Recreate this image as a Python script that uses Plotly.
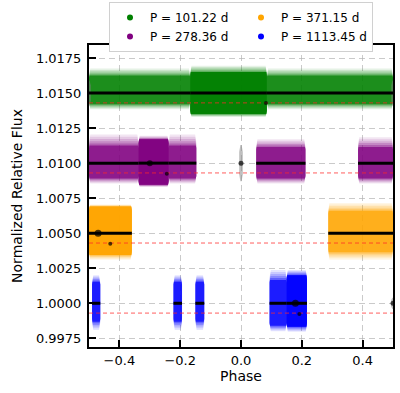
import plotly.graph_objects as go

# ---------------- data ----------------
series_names = ["P = 101.22 d", "P = 278.36 d", "P = 371.15 d", "P = 1113.45 d"]
series_colors = ["green", "purple", "orange", "blue"]
series_offsets = [1.015, 1.010, 1.005, 1.000]
model_levels = [1.0143, 1.0093, 1.0043, 0.9993]

# segments of phase coverage: start, end, core low/high, faint low/high, dense flag
green_start = [-0.5, -0.167, 0.085]
green_end = [-0.167, 0.085, 0.5]
green_core_lo = [1.01420, 1.01350, 1.01420]
green_core_hi = [1.01625, 1.01650, 1.01625]
green_faint_lo = [1.01385, 1.01330, 1.01385]
green_faint_hi = [1.01675, 1.01695, 1.01675]
green_dense = [False, True, False]

purple_start = [-0.5, -0.337, -0.238, 0.050, 0.385]
purple_end = [-0.337, -0.238, -0.147, 0.212, 0.5]
purple_core_lo = [1.00890, 1.00845, 1.00890, 1.00890, 1.00890]
purple_core_hi = [1.01125, 1.01170, 1.01125, 1.01115, 1.01115]
purple_faint_lo = [1.00855, 1.00830, 1.00855, 1.00855, 1.00855]
purple_faint_hi = [1.01205, 1.01195, 1.01205, 1.01170, 1.01185]
purple_dense = [False, True, False, False, False]

orange_start = [-0.5, 0.287]
orange_end = [-0.359, 0.5]
orange_core_lo = [1.00345, 1.00365]
orange_core_hi = [1.00690, 1.00660]
orange_faint_lo = [1.00310, 1.00310]
orange_faint_hi = [1.00705, 1.00716]
orange_dense = [True, False]

blue_start = [-0.490, -0.222, -0.150, 0.094, 0.150]
blue_end = [-0.463, -0.194, -0.121, 0.150, 0.217]
blue_core_lo = [0.99869, 0.99869, 0.99869, 0.99840, 0.99833]
blue_core_hi = [1.00154, 1.00154, 1.00154, 1.00166, 1.00200]
blue_faint_lo = [0.99810, 0.99810, 0.99810, 0.99800, 0.99797]
blue_faint_hi = [1.00200, 1.00200, 1.00200, 1.00238, 1.00238]
blue_dense = [False, False, False, False, True]

# grey out-of-set points (phase, flux, half-height)
grey_phase = [0.0, -0.5, 0.5, 0.5]
grey_flux = [1.0100, 1.0150, 1.0150, 1.0000]
grey_half = [0.0013, 0.0009, 0.0009, 0.0004]

# isolated black binned points (phase, flux)
black_phase = [0.082, -0.244, -0.430, 0.192, -0.470, 0.179, -0.300, 0.0, 0.5]
black_flux = [1.01429, 1.00924, 1.00424, 0.99924, 1.0050, 1.0000, 1.0100, 1.0100, 1.0000]
black_size = [4, 4, 4, 4, 7, 7, 6, 5, 5]

segments = [
    (green_start, green_end, green_core_lo, green_core_hi, green_faint_lo, green_faint_hi, green_dense),
    (purple_start, purple_end, purple_core_lo, purple_core_hi, purple_faint_lo, purple_faint_hi, purple_dense),
    (orange_start, orange_end, orange_core_lo, orange_core_hi, orange_faint_lo, orange_faint_hi, orange_dense),
    (blue_start, blue_end, blue_core_lo, blue_core_hi, blue_faint_lo, blue_faint_hi, blue_dense),
]

rgb = {"green": (0, 128, 0), "purple": (128, 0, 128), "orange": (255, 165, 0), "blue": (0, 0, 255)}


def rgba(c, a):
    r, g, b = rgb[c]
    return f"rgba({r},{g},{b},{a})"


def blob(x0, x1, lo, hi, cut):
    # rounded-ish outline; narrow segments become oval
    w = x1 - x0
    rx = min(0.35 * w, 0.004) * cut
    ry = min(0.2 * (hi - lo), 0.0005) * cut
    xs = [x0, x0 + rx, x1 - rx, x1, x1, x1 - rx, x0 + rx, x0, x0]
    ys = [lo + ry, lo, lo, lo + ry, hi - ry, hi, hi, hi - ry, lo + ry]
    return xs, ys


fig = go.Figure()

# (fraction from faint edge to core edge, alpha, corner cut)
layers = [(0.0, 0.10, 1.0), (0.2, 0.12, 0.9), (0.4, 0.15, 0.8), (0.6, 0.2, 0.7),
          (0.8, 0.3, 0.55), (1.0, 0.7, 0.4)]

for (s, e, clo, chi, flo, fhi, dense), col in zip(segments, series_colors):
    for frac, alpha, cut in layers:
        px, py = [], []
        for i in range(len(s)):
            lo = flo[i] + (clo[i] - flo[i]) * frac
            hi = fhi[i] + (chi[i] - fhi[i]) * frac
            xs, ys = blob(s[i], e[i], lo, hi, cut)
            px += xs + [None]
            py += ys + [None]
        fig.add_trace(go.Scatter(x=px, y=py, mode="lines", fill="toself", line=dict(width=0),
                                 fillcolor=rgba(col, alpha), showlegend=False, hoverinfo="skip"))
    dx, dy = [], []
    for i in range(len(s)):
        if dense[i]:
            xs, ys = blob(s[i], e[i], clo[i], chi[i], 0.6)
            dx += xs + [None]
            dy += ys + [None]
    if dx:
        fig.add_trace(go.Scatter(x=dx, y=dy, mode="lines", fill="toself", line=dict(width=0),
                                 fillcolor=rgba(col, 0.85), showlegend=False, hoverinfo="skip"))

# grey blobs
for gp, gf, gh in zip(grey_phase, grey_flux, grey_half):
    xs, ys = blob(gp - 0.006, gp + 0.006, gf - gh, gf + gh, 1.0)
    fig.add_trace(go.Scatter(x=xs, y=ys, mode="lines", fill="toself", line=dict(width=0),
                             fillcolor="rgba(128,128,128,0.5)", showlegend=False, hoverinfo="skip"))

# red dashed model levels
for lvl in model_levels:
    fig.add_trace(go.Scatter(x=[-0.5, 0.5], y=[lvl, lvl], mode="lines",
                             line=dict(color="rgba(255,40,40,0.75)", width=1, dash="4px,3px"),
                             showlegend=False, hoverinfo="skip"))

# black binned light curves
for (s, e, *_), off in zip(segments, series_offsets):
    bx, by = [], []
    for i in range(len(s)):
        bx += [s[i], e[i], None]
        by += [off, off, None]
    fig.add_trace(go.Scatter(x=bx, y=by, mode="lines", line=dict(color="black", width=3),
                             showlegend=False, hoverinfo="skip"))

fig.add_trace(go.Scatter(x=black_phase, y=black_flux, mode="markers",
                         marker=dict(color="black", size=black_size, line=dict(width=0)),
                         showlegend=False, hoverinfo="skip"))

# legend entries (row order: green, orange / purple, blue)
for idx in [0, 2, 1, 3]:
    fig.add_trace(go.Scatter(x=[None], y=[None], mode="markers", name=series_names[idx],
                             marker=dict(color=series_colors[idx], size=6, line=dict(width=0))))

axis_common = dict(showline=True, linewidth=2, linecolor="black", mirror=True,
                   ticks="inside", ticklen=7, tickwidth=2, tickcolor="black",
                   showgrid=True, gridcolor="rgba(180,180,180,0.7)", gridwidth=1, griddash="6px,4px",
                   zeroline=False, tickfont=dict(size=13, color="black"), automargin=False)

fig.update_layout(
    width=400, height=393,
    margin=dict(l=89, r=7, t=45, b=46, autoexpand=False),
    paper_bgcolor="white", plot_bgcolor="white",
    font=dict(family="DejaVu Sans", color="black"),
    xaxis=dict(range=[-0.5, 0.5], tickvals=[-0.4, -0.2, 0.0, 0.2, 0.4], tickformat=".1f",
               title=dict(text="Phase", font=dict(size=14), standoff=4), **axis_common),
    yaxis=dict(range=[0.99688, 1.01843], tickvals=[0.9975, 1.0, 1.0025, 1.005, 1.0075, 1.01, 1.0125, 1.015, 1.0175],
               tickformat=".4f", ticklabelstandoff=3,
               title=dict(text="Normalized Relative Flux", font=dict(size=14), standoff=10), **axis_common),
    legend=dict(orientation="h", x=0.5, xanchor="center", yref="container", y=0.995, yanchor="top",
                bordercolor="#d0d0d0", borderwidth=1, bgcolor="white",
                font=dict(size=12), tracegroupgap=0),
)

fig.write_html("out.html", config={"displayModeBar": False},
               post_script="document.body.style.margin='0';")
